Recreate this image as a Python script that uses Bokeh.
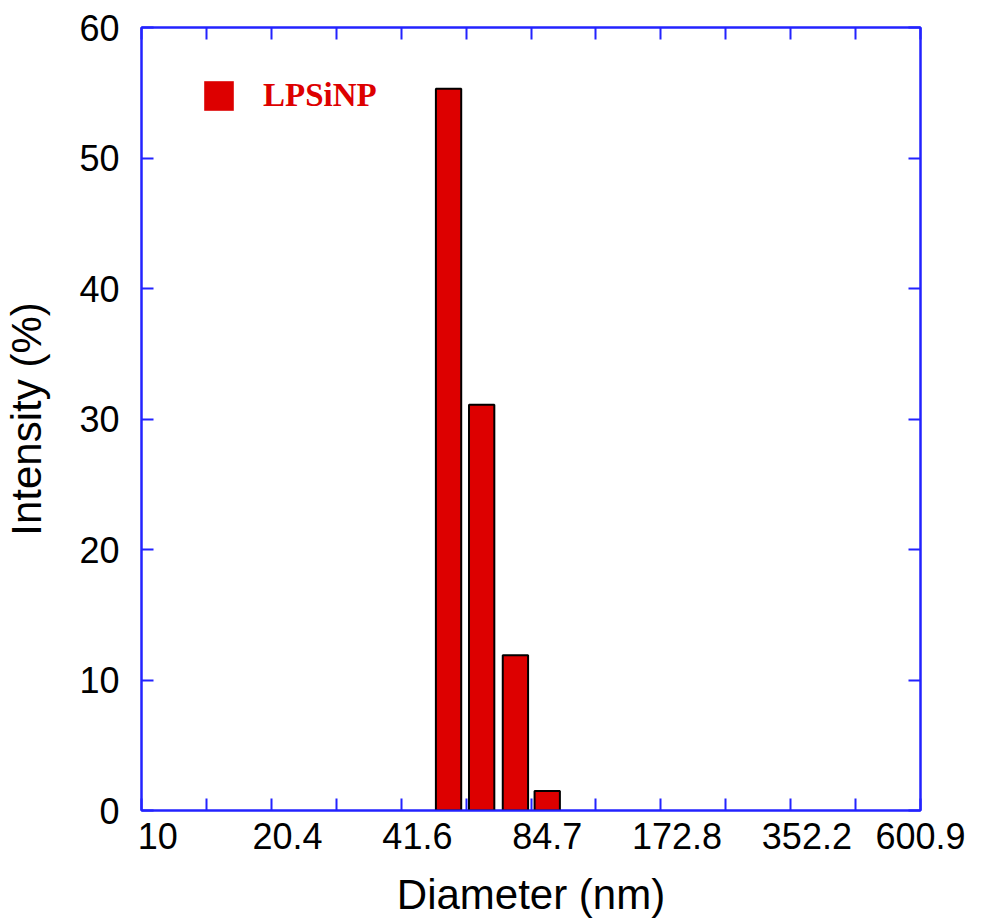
from bokeh.plotting import figure
from bokeh.models import (FixedTicker, LinearAxis, Range1d, Legend, LegendItem)
from bokeh.embed import file_html
from bokeh.resources import INLINE

# ---- data ----
tick_labels = ["10", "20.4", "41.6", "84.7", "172.8", "352.2", "600.9"]
bin_pos = [4.73, 5.24, 5.76, 6.25]          # bin position on the size axis (tick units)
intensity = [55.3, 31.1, 11.9, 1.5]          # Intensity (%)
series_name = "LPSiNP"
y_ticks = [0, 10, 20, 30, 40, 50, 60]

BLUE = "#2323ff"
RED = "#dd0000"

p = figure(width=982, height=924, x_range=Range1d(0, 12), y_range=Range1d(0, 60),
           output_backend="svg", toolbar_location=None,
           x_axis_location=None, y_axis_location=None,
           min_border_left=140, min_border_right=62, min_border_top=27, min_border_bottom=114)
p.grid.visible = False
p.outline_line_color = BLUE
p.outline_line_width = 2
p.background_fill_color = "white"
p.border_fill_color = "white"

def style_axis(ax, ticks, show_labels=True):
    ax.ticker = FixedTicker(ticks=ticks)
    ax.axis_line_color = BLUE
    ax.axis_line_width = 2
    ax.major_tick_line_color = BLUE
    ax.major_tick_line_width = 2
    ax.major_tick_in = 12
    ax.major_tick_out = 0
    ax.minor_tick_in = 0
    ax.minor_tick_out = 0
    ax.minor_tick_line_color = None
    if not show_labels:
        ax.major_label_text_color = None
        ax.major_label_text_font_size = "2px"
        ax.major_label_standoff = 0

# left axis
ly = LinearAxis()
style_axis(ly, y_ticks)
ly.major_label_text_font = "Liberation Sans"
ly.major_label_text_font_size = "36px"
ly.major_label_text_color = "black"
ly.major_label_standoff = 22
ly.axis_label = "Intensity (%)"
ly.axis_label_text_font = "Liberation Sans"
ly.axis_label_text_font_size = "42px"
ly.axis_label_text_font_style = "normal"
ly.axis_label_text_color = "black"
ly.axis_label_standoff = 26
p.add_layout(ly, "left")

# right axis
ry = LinearAxis()
style_axis(ry, y_ticks, show_labels=False)
p.add_layout(ry, "right")

# top axis
tx = LinearAxis()
style_axis(tx, list(range(0, 13)), show_labels=False)
p.add_layout(tx, "above")

# bottom axis: tick marks
bx = LinearAxis()
style_axis(bx, list(range(0, 13)), show_labels=False)
p.add_layout(bx, "below")

# bottom axis: labels (slightly right of their ticks, as in the original)
lab_pos = [2 * i + 0.25 for i in range(len(tick_labels) - 1)] + [12]
bl = LinearAxis()
bl.ticker = FixedTicker(ticks=lab_pos)
bl.major_label_overrides = {pos: t for pos, t in zip(lab_pos, tick_labels)}
bl.axis_line_color = None
bl.major_tick_line_color = None
bl.minor_tick_line_color = None
bl.major_tick_in = 0
bl.major_tick_out = 0
bl.major_label_text_font = "Liberation Sans"
bl.major_label_text_font_size = "36px"
bl.major_label_text_color = "black"
bl.major_label_standoff = 12
bl.axis_label = "Diameter (nm)"
bl.axis_label_text_font = "Liberation Sans"
bl.axis_label_text_font_size = "42px"
bl.axis_label_text_font_style = "normal"
bl.axis_label_text_color = "black"
bl.axis_label_standoff = 19
p.add_layout(bl, "below")

# legend glyph renderer (plain red, underneath the outlined bars)
leg_r = p.vbar(x=bin_pos, top=intensity, bottom=0, width=0.39, fill_color=RED, line_color=None)

# bars
p.vbar(x=bin_pos, top=intensity, bottom=0, width=0.39,
       fill_color=RED, line_color="black", line_width=2)

legend = Legend(items=[LegendItem(label=series_name, renderers=[leg_r])],
                location=(59, 690), glyph_width=37, glyph_height=37, label_height=49,
                label_text_font="Liberation Serif", label_text_font_style="bold",
                label_text_font_size="33px", label_text_color=RED,
                label_standoff=26, padding=0, margin=0, spacing=0,
                border_line_color=None, background_fill_alpha=0)
p.add_layout(legend, "center")

open("out.html", "w").write(file_html(p, INLINE))
